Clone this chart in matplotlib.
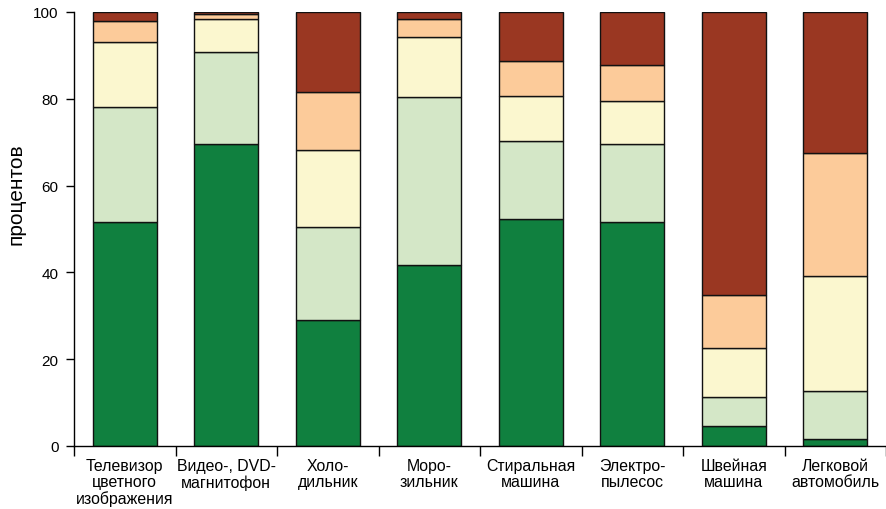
import numpy as np
import matplotlib
matplotlib.use('Agg')
import matplotlib.pyplot as plt

plt.rcParams['font.family'] = ['Liberation Sans', 'DejaVu Sans']

categories = ['Телевизор\nцветного\nизображения', 'Видео-, DVD-\nмагнитофон',
              'Холо-\nдильник', 'Моро-\nзильник', 'Стиральная\nмашина',
              'Электро-\nпылесос', 'Швейная\nмашина', 'Легковой\nавтомобиль']

# stacked shares, bottom to top (percent)
s1 = [51.7, 69.7, 29.0, 41.6, 52.2, 51.7, 4.5, 1.6]
s2 = [26.5, 21.1, 21.4, 38.7, 18.0, 18.0, 6.8, 11.0]
s3 = [14.8, 7.7, 17.7, 13.9, 10.5, 9.8, 11.3, 26.5]
s4 = [5.0, 1.0, 13.4, 4.2, 8.0, 8.3, 12.2, 28.3]
s5 = [2.0, 0.5, 18.5, 1.6, 11.3, 12.2, 65.2, 32.6]

colors = ['#10803F', '#D4E7C7', '#FBF7CF', '#FCCB9A', '#9A3722']

fig = plt.figure(figsize=(8.86, 5.10), dpi=100)
ax = fig.add_axes([74/886, 63/510, 812/886, 434/510])

x = np.arange(len(categories))
bottom = np.zeros(len(categories))
for vals, c in zip([s1, s2, s3, s4, s5], colors):
    ax.bar(x, vals, width=0.63, bottom=bottom, color=c, edgecolor='#111111', linewidth=1.0)
    bottom += np.array(vals)

ax.set_xlim(-0.5, 7.5)
ax.set_ylim(0, 100)
ax.set_yticks([0, 20, 40, 60, 80, 100])
ax.tick_params(axis='y', labelsize=11, length=6, width=1, pad=5)
ax.set_xticks(x)
ax.set_xticklabels(categories, fontsize=11.4, linespacing=1.05)
ax.set_xticks(np.arange(-0.5, 7.6, 1), minor=True)
ax.tick_params(axis='x', which='major', length=0, pad=9)
ax.tick_params(axis='x', which='minor', length=7, width=1)

for s in ['top', 'right']:
    ax.spines[s].set_visible(False)
ax.spines['left'].set_linewidth(1)
ax.spines['bottom'].set_linewidth(1)

ax.set_ylabel('процентов', fontsize=15)
ax.yaxis.set_label_coords(-0.060, 0.583)

fig.savefig('out.png', dpi=100)
